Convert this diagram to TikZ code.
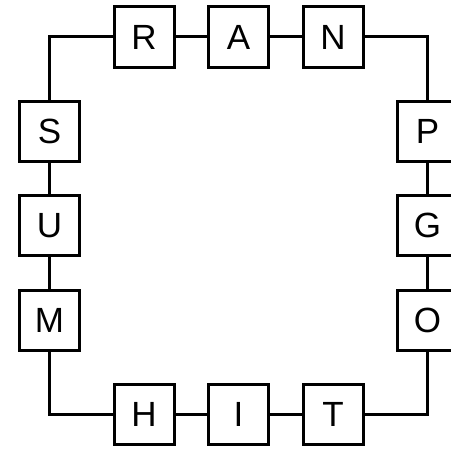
\documentclass[tikz,border=0pt]{standalone}
\usepackage{fontspec}
\setmainfont{Liberation Sans}
\begin{document}
\begin{tikzpicture}[x=1pt,y=-1pt,
  letterbox/.style={draw, line width=3pt, minimum size=60pt, inner sep=0pt, font=\fontsize{35}{40}\selectfont, fill=white},
  link/.style={line width=3pt}]
\useasboundingbox (0,0) rectangle (450,452);
\node[letterbox] (R) at (144,37) {R};
\node[letterbox] (A) at (238.5,37) {A};
\node[letterbox] (N) at (333,37) {N};
\node[letterbox] (S) at (49.5,131) {S};
\node[letterbox] (U) at (49.5,225.5) {U};
\node[letterbox] (M) at (49.5,320) {M};
\node[letterbox] (P) at (427.5,131) {P};
\node[letterbox] (G) at (427.5,225.5) {G};
\node[letterbox] (O) at (427.5,320) {O};
\node[letterbox] (H) at (144,414.5) {H};
\node[letterbox] (I) at (238.5,414.5) {I};
\node[letterbox] (T) at (333,414.5) {T};
\draw[link] (R) -- (A);
\draw[link] (A) -- (N);
\draw[link] (S) -- (U);
\draw[link] (U) -- (M);
\draw[link] (P) -- (G);
\draw[link] (G) -- (O);
\draw[link] (H) -- (I);
\draw[link] (I) -- (T);
\draw[link] (R.west) -| (S.north);
\draw[link] (N.east) -| (P.north);
\draw[link] (M.south) |- (H.west);
\draw[link] (T.east) -| (O.south);
\end{tikzpicture}
\end{document}
